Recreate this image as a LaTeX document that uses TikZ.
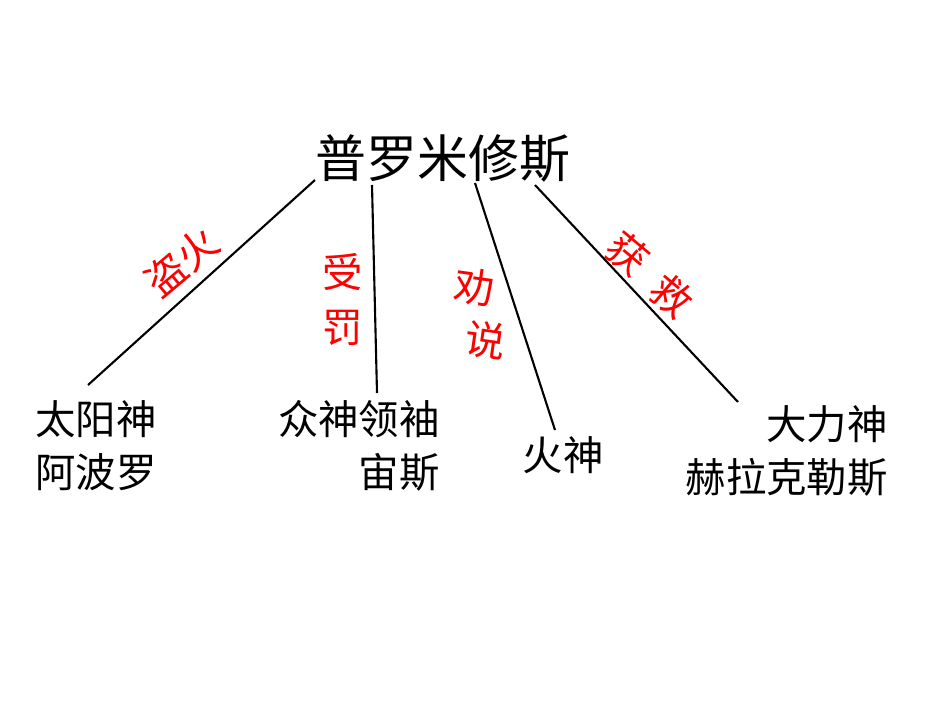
\documentclass[tikz,border=0pt]{standalone}
\usepackage{fontspec}
\newfontfamily\cjk{Noto Sans CJK SC}
\begin{document}
\begin{tikzpicture}[x=0.02cm,y=-0.02cm,
    person/.style={font={\cjk\fontsize{23}{30}\selectfont},inner sep=0pt},
    act/.style={font={\cjk\fontsize{23}{30}\selectfont},text=red,inner sep=0pt},
    link/.style={line width=1.2pt}]
    \useasboundingbox (0,0) rectangle (950,713);
    % Title
    \node[font={\cjk\fontsize{29}{36}\selectfont},inner sep=0pt] (title) at (443,158) {普罗米修斯};
    \coordinate (t1) at (315,180);
    \coordinate (t2) at (372,185);
    \coordinate (t3) at (475,183);
    \coordinate (t4) at (535,185);
    
    % Names
    \node[person,align=left,anchor=north west] (apollo) at (35,400) {太阳神\\阿波罗};
    \node[person,align=right,anchor=north east] (zeus) at (440,400) {众神领袖\\宙斯};
    \node[person] (fire) at (563,455) {火神};
    \node[person,align=right,anchor=north east] (hera) at (888,405) {大力神\hspace{10pt}\\赫拉克勒斯};
    \coordinate (e1) at (88,385);
    \coordinate (e2) at (377,393);
    \coordinate (e3) at (555,430);
    \coordinate (e4) at (738,402);
    
    % Links
    \draw[link] (t1) -- (e1);
    \draw[link] (t2) -- (e2);
    \draw[link] (t3) -- (e3);
    \draw[link] (t4) -- (e4);
    
    % Actions
    \node[act,rotate=40] (steal) at (182,262) {盗火};
    \node[act] (pun1) at (343,272) {受};
    \node[act] (pun2) at (343,328) {罚};
    \node[act,rotate=-8] (adv1) at (475,287) {劝};
    \node[act,rotate=-8] (adv2) at (486,340) {说};
    \node[act,rotate=-40] (sav1) at (628,254) {获};
    \node[act,rotate=-40] (sav2) at (672,296) {救};
\end{tikzpicture}
\end{document}
